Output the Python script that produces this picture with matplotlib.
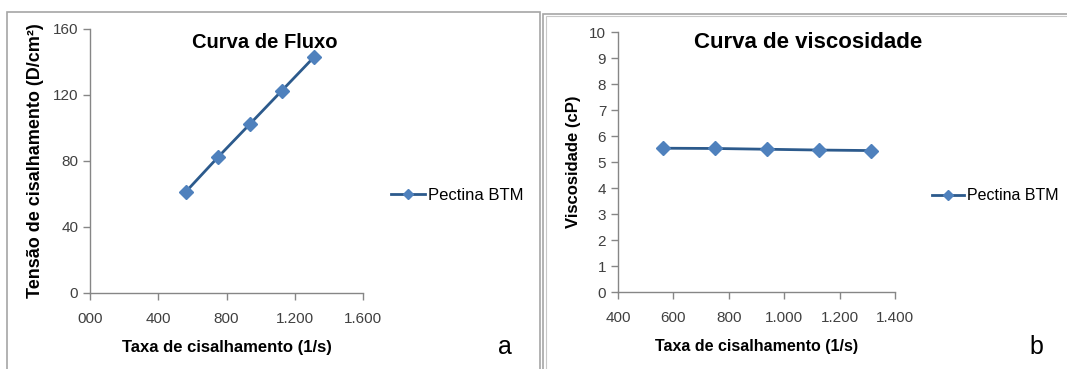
import matplotlib.pyplot as plt
from matplotlib.patches import Rectangle

# shear rate (1/s)
taxa = [563, 750, 938, 1125, 1313]
# shear stress (D/cm2)
tensao = [61.5, 82.3, 102.5, 122.7, 143.0]
# viscosity (cP)
viscosidade = [5.53, 5.52, 5.49, 5.46, 5.44]

xticks_a = [0, 400, 800, 1200, 1600]
xlabels_a = ["000", "400", "800", "1.200", "1.600"]
yticks_a = [0, 40, 80, 120, 160]
xticks_b = [400, 600, 800, 1000, 1200, 1400]
xlabels_b = ["400", "600", "800", "1.000", "1.200", "1.400"]
yticks_b = list(range(0, 11))

serie = "Pectina BTM"

W, H = 1067, 369
fig = plt.figure(figsize=(W / 100, H / 100), dpi=100)
plt.rcParams['font.family'] = ['Liberation Sans', 'DejaVu Sans']


def px(x, y, w, h):
    return [x / W, 1 - (y + h) / H, w / W, h / H]


# panel frames
fig.patches.append(Rectangle((7 / W, -0.1), 533 / W, 1.1 - 12 / H, transform=fig.transFigure,
                             fill=False, edgecolor="#a6a6a6", lw=1.2))
fig.patches.append(Rectangle((543 / W, -0.1), 530 / W, 1.1 - 14 / H, transform=fig.transFigure,
                             fill=False, edgecolor="#a6a6a6", lw=1.2))
fig.patches.append(Rectangle((546 / W, -0.1), 530 / W, 1.1 - 16 / H, transform=fig.transFigure,
                             fill=False, edgecolor="#c8c8c8", lw=0.8))

linecol = "#2c5a8c"
markcol = "#4f81bd"
tickcol = "#404040"
spinecol = "#868686"


def style(ax):
    for s in ["top", "right"]:
        ax.spines[s].set_visible(False)
    for s in ["left", "bottom"]:
        ax.spines[s].set_color(spinecol)
        ax.spines[s].set_linewidth(1)
    ax.tick_params(direction="out", length=5, width=1, color=spinecol,
                   labelsize=11, labelcolor=tickcol)
    ax.tick_params(axis="x", pad=9)


# panel a
ax1 = fig.add_axes(px(90, 29, 273, 264))
l1, = ax1.plot(taxa, tensao, color=linecol, lw=2, marker="D", ms=7,
               mfc=markcol, mec=markcol, label=serie)
ax1.set_xlim(0, 1600)
ax1.set_ylim(0, 160)
ax1.set_xticks(xticks_a)
ax1.set_xticklabels(xlabels_a)
ax1.set_yticks(yticks_a)
style(ax1)
ax1.set_xlabel("Taxa de cisalhamento (1/s)", fontsize=12, fontweight="bold", labelpad=10)
ax1.set_ylabel("Tensão de cisalhamento (D/cm²)", fontsize=13, fontweight="bold", labelpad=6)
fig.text(265 / W, 1 - 42 / H, "Curva de Fluxo", fontsize=14.5, fontweight="bold",
         ha="center", va="center")
ax1.legend(handles=[l1], loc="center left", bbox_to_anchor=(383 / W, 1 - 195 / H),
           bbox_transform=fig.transFigure, frameon=False, fontsize=12,
           handlelength=2.0, handletextpad=0.2, borderpad=0, markerscale=0.8)
fig.text(505 / W, 1 - 347 / H, "a", fontsize=18, ha="center", va="center")

# panel b
ax2 = fig.add_axes(px(618, 32, 277, 260))
l2, = ax2.plot(taxa, viscosidade, color=linecol, lw=2, marker="D", ms=7,
               mfc=markcol, mec=markcol, label=serie)
ax2.set_xlim(400, 1400)
ax2.set_ylim(0, 10)
ax2.set_xticks(xticks_b)
ax2.set_xticklabels(xlabels_b)
ax2.set_yticks(yticks_b)
style(ax2)
ax2.set_xlabel("Taxa de cisalhamento (1/s)", fontsize=11.5, fontweight="bold", labelpad=10)
ax2.set_ylabel("Viscosidade (cP)", fontsize=12, fontweight="bold", labelpad=6)
fig.text(808 / W, 1 - 42 / H, "Curva de viscosidade", fontsize=16, fontweight="bold",
         ha="center", va="center")
ax2.legend(handles=[l2], loc="center left", bbox_to_anchor=(924 / W, 1 - 196 / H),
           bbox_transform=fig.transFigure, frameon=False, fontsize=11.5,
           handlelength=2.0, handletextpad=0.2, borderpad=0, markerscale=0.8)
fig.text(1036 / W, 1 - 347 / H, "b", fontsize=18, ha="center", va="center")

fig.savefig("out.png", dpi=100)
